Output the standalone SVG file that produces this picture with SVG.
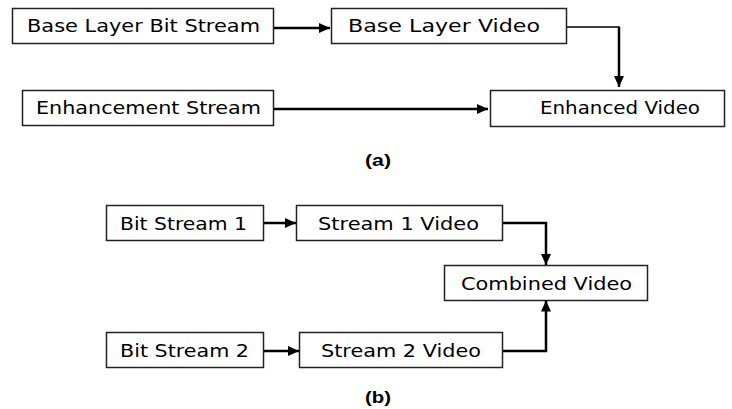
<svg xmlns="http://www.w3.org/2000/svg" width="732" height="409" viewBox="0 0 732 409">
  <defs>
    <marker id="head" markerUnits="userSpaceOnUse" markerWidth="12" markerHeight="11" refX="11" refY="5" orient="auto">
      <path d="M0,0 L11,5 L0,10 Z" fill="#000"/>
    </marker>
    <style>
      .box rect { fill: #fff; stroke: #222; stroke-width: 1.5; }
      .box text { font-family: "DejaVu Sans", Verdana, sans-serif; font-size: 17px; fill: #000; }
      .wire { fill: none; stroke: #000; stroke-width: 2.5; }
      .thin { stroke-width: 1.5; }
      .cap { font-family: "Liberation Sans", Arial, sans-serif; font-size: 17px; font-weight: bold; fill: #000; }
    </style>
  </defs>

  <!-- (a) layered coding -->
  <g id="base-bitstream" class="box">
    <rect x="12.5" y="8.5" width="261" height="35"/>
    <text x="27" y="32" textLength="233" lengthAdjust="spacingAndGlyphs">Base Layer Bit Stream</text>
  </g>
  <g id="base-video" class="box">
    <rect x="331.5" y="8.5" width="235" height="35"/>
    <text x="348" y="32" textLength="192" lengthAdjust="spacingAndGlyphs">Base Layer Video</text>
  </g>
  <g id="enh-stream" class="box">
    <rect x="22.5" y="90.5" width="251" height="35"/>
    <text x="36" y="114" textLength="225" lengthAdjust="spacingAndGlyphs">Enhancement Stream</text>
  </g>
  <g id="enh-video" class="box">
    <rect x="490.5" y="90.5" width="234" height="36"/>
    <text x="540" y="114" textLength="160" lengthAdjust="spacingAndGlyphs">Enhanced Video</text>
  </g>

  <!-- (b) two streams combined -->
  <g id="bitstream-1" class="box">
    <rect x="106.5" y="205.5" width="157" height="35"/>
    <text x="120" y="230" textLength="127" lengthAdjust="spacingAndGlyphs">Bit Stream 1</text>
  </g>
  <g id="stream1-video" class="box">
    <rect x="296.5" y="205.5" width="206" height="35"/>
    <text x="318" y="230" textLength="161" lengthAdjust="spacingAndGlyphs">Stream 1 Video</text>
  </g>
  <g id="combined-video" class="box">
    <rect x="444.5" y="265.5" width="203" height="35"/>
    <text x="461" y="290" textLength="171" lengthAdjust="spacingAndGlyphs">Combined Video</text>
  </g>
  <g id="bitstream-2" class="box">
    <rect x="106.5" y="332.5" width="157" height="35"/>
    <text x="120" y="357" textLength="129" lengthAdjust="spacingAndGlyphs">Bit Stream 2</text>
  </g>
  <g id="stream2-video" class="box">
    <rect x="299.5" y="332.5" width="203" height="35"/>
    <text x="321" y="357" textLength="160" lengthAdjust="spacingAndGlyphs">Stream 2 Video</text>
  </g>

  <g id="connectors">
    <line class="wire" x1="274" y1="28" x2="330" y2="28" marker-end="url(#head)"/>
    <line class="wire" x1="274" y1="109" x2="488" y2="109" marker-end="url(#head)"/>
    <path class="wire thin" d="M567,27 H619"/>
    <path class="wire" d="M619,26.5 V87" marker-end="url(#head)"/>
    <line class="wire" x1="264" y1="223" x2="296" y2="223" marker-end="url(#head)"/>
    <line class="wire" x1="264" y1="351" x2="299" y2="351" marker-end="url(#head)"/>
    <path class="wire" d="M503,223 H546 V265" marker-end="url(#head)"/>
    <path class="wire" d="M503,351 H546 V300.5" marker-end="url(#head)"/>
  </g>

  <text class="cap" x="365" y="166" textLength="26" lengthAdjust="spacingAndGlyphs">(a)</text>
  <text class="cap" x="365" y="403" textLength="26" lengthAdjust="spacingAndGlyphs">(b)</text>
</svg>
